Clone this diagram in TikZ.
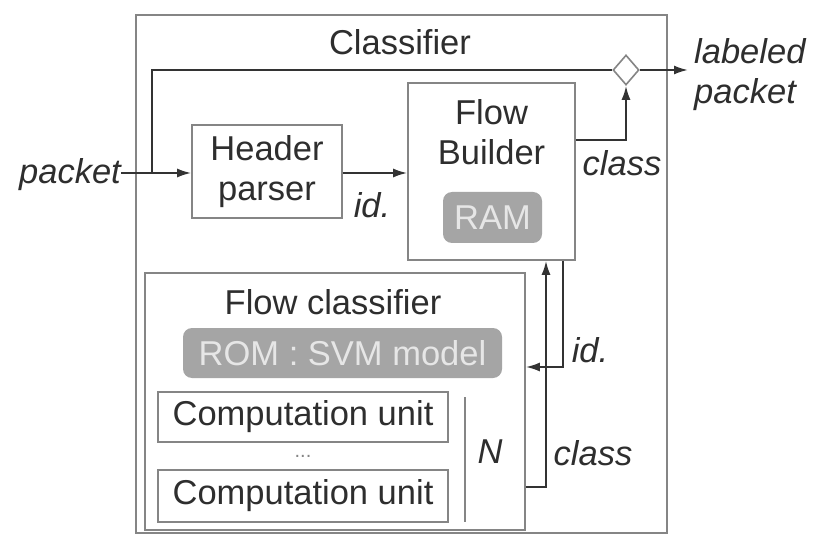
\documentclass[tikz,border=0pt]{standalone}
\usepackage{fontspec}
\setmainfont{Liberation Sans}
\usetikzlibrary{arrows.meta,shapes.geometric}
\definecolor{ln}{HTML}{333333}
\definecolor{bx}{HTML}{858585}
\definecolor{tx}{HTML}{2E2E2E}
\definecolor{memfill}{HTML}{A5A5A5}
\definecolor{memtext}{HTML}{E6E6E6}
\begin{document}
\begin{tikzpicture}[x=1pt,y=-1pt,
  every node/.style={text=tx, font=\fontsize{34.5}{40}\selectfont, inner sep=0pt},
  blk/.style={draw=bx, line width=1.6pt, minimum width=#1},
  mem/.style={fill=memfill, rounded corners=9pt, text=memtext},
  conn/.style={draw=ln, line width=2pt},
  arr/.style={conn, -{Latex[length=14pt,width=9pt]}},
  lbl/.style={font=\fontsize{34.5}{40}\selectfont\itshape}
]
\useasboundingbox (0,0) rectangle (813,537);
\fill[white] (0,0) rectangle (813,537);
% boxes
\node[blk=531pt, minimum height=518pt] (outer) at (401.5,274) {};
\node (title) at (400,42) {Classifier};
\node[blk=150pt, minimum height=93pt, align=center] (hp) at (267,171.5) {Header\\parser};
\node[blk=167pt, minimum height=177pt] (fb) at (491.5,171.5) {};
\node[align=center] (fbt) at (491.5,132) {Flow\\Builder};
\node[mem, minimum width=99pt, minimum height=51pt] (ram) at (492.5,217.5) {RAM};
\node[blk=380pt, minimum height=257pt] (fc) at (335,401.5) {};
\node (fct) at (333,302) {Flow classifier};
\node[mem, minimum width=319pt, minimum height=50pt] (rom) at (342.5,353) {ROM : SVM model};
\node[blk=290pt, minimum height=50pt] (cu1) at (303,417) {Computation unit};
\node[blk=290pt, minimum height=52pt] (cu2) at (303,496) {Computation unit};
\node[font=\fontsize{20}{24}\selectfont, text=bx] (dots) at (303,456) {...};
\coordinate (nt) at (465,397);
\coordinate (nb) at (465,522);
\draw[draw=bx, line width=1.6pt] (nt) -- (nb);
\node[lbl] (N) at (490,452) {N};
\node[diamond, draw=bx, line width=1.6pt, minimum width=26pt, minimum height=30pt, fill=white] (dm) at (626,70) {};
% external labels
\node[lbl, anchor=east] (pk) at (121,175) {packet};
\node[lbl, align=left, anchor=west] (lp) at (694,75) {labeled\\packet};
\node[lbl] (id1) at (372,205) {id.};
\node[lbl] (cl1) at (622,163) {class};
\node[lbl] (id2) at (590,350) {id.};
\node[lbl] (cl2) at (593,453) {class};
% connectors
\coordinate (j) at (152,173);
\coordinate (out) at (688,70);
\draw[arr] (pk.east |- j) -- (hp.west |- j);
\draw[conn] (j) |- (dm.west);
\draw[arr] (dm.east) -- (out);
\draw[arr] (hp.east |- j) -- (fb.west |- j);
\draw[arr] (fb.east |- 0,140) -| (dm.south);
\draw[arr] (fc.east |- 0,487) -| (546,0 |- fb.south);
\draw[arr] (563,0 |- fb.south) |- (fc.east |- 0,367);
\end{tikzpicture}
\end{document}
